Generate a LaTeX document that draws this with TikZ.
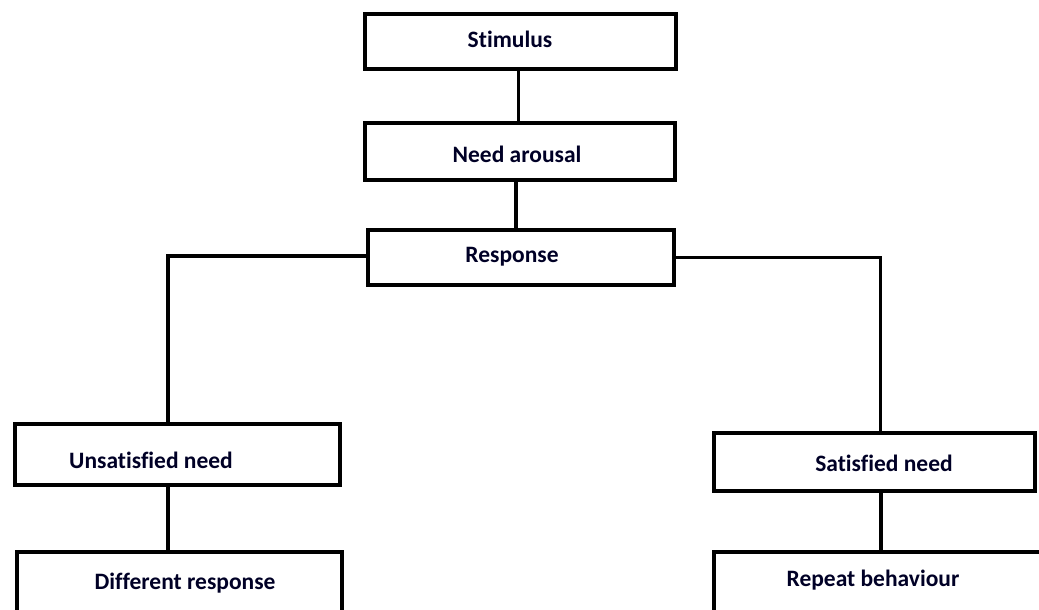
\documentclass[tikz,border=0pt]{standalone}
\usepackage{fontspec}
\setmainfont{Carlito}[Ligatures=NoCommon]
\begin{document}
\begin{tikzpicture}[x=1pt,y=-1pt,
  box/.style={draw=black,line width=3.8pt,rectangle,inner sep=0pt,outer sep=0pt},
  lbl/.style={font=\bfseries\fontsize{23.5}{28}\selectfont,inner sep=0pt,text=black!85!blue},
  conn/.style={draw=black,line width=3.8pt}]
\useasboundingbox (0,0) rectangle (1039,610);
\clip (0,0) rectangle (1039,610);
\fill[white] (0,0) rectangle (1039,610);
\node[box,minimum width=311pt,minimum height=55pt] (stim) at (520.5,41.5) {};
\node[box,minimum width=310pt,minimum height=57pt] (need) at (520,151.5) {};
\node[box,minimum width=306pt,minimum height=55pt] (resp) at (521,257.5) {};
\node[box,minimum width=325pt,minimum height=61pt] (unsat) at (177.5,454.5) {};
\node[box,minimum width=321pt,minimum height=58pt] (sat) at (874.5,462) {};
\node[box,minimum width=325pt,minimum height=76pt] (diff) at (179.5,590) {};
\node[box,minimum width=334pt,minimum height=76pt] (rep) at (881,590) {};
\node[lbl] (tstim) at (510,39) {Stimulus};
\node[lbl] (tneed) at (517,154) {Need arousal};
\node[lbl] (tresp) at (512,257) {Response};
\node[lbl] (tunsat) at (151,460) {Unsatisfied need};
\node[lbl] (tsat) at (884,463) {Satisfied need};
\node[lbl] (tdiff) at (185,583) {Different response};
\node[lbl] (trep) at (873,580) {Repeat behaviour};
\coordinate (lt) at ([xshift=-9.5pt]unsat.north);
\coordinate (lb) at ([xshift=-9.5pt]unsat.south);
\coordinate (rt) at ([xshift=6pt]sat.north);
\draw[conn] ([xshift=-2pt]stim.south) -- ([xshift=-2pt]stim.south |- need.north);
\draw[conn] ([xshift=-4pt]need.south) -- ([xshift=-4pt]need.south |- resp.north);
\draw[conn] ([yshift=1.5pt]resp.west) -| (lt);
\draw[conn] (resp.east) -| (rt);
\draw[conn] (lb) -- (lb |- diff.north);
\draw[conn] (rep.north |- sat.south) -- (rep.north);
\end{tikzpicture}
\end{document}
